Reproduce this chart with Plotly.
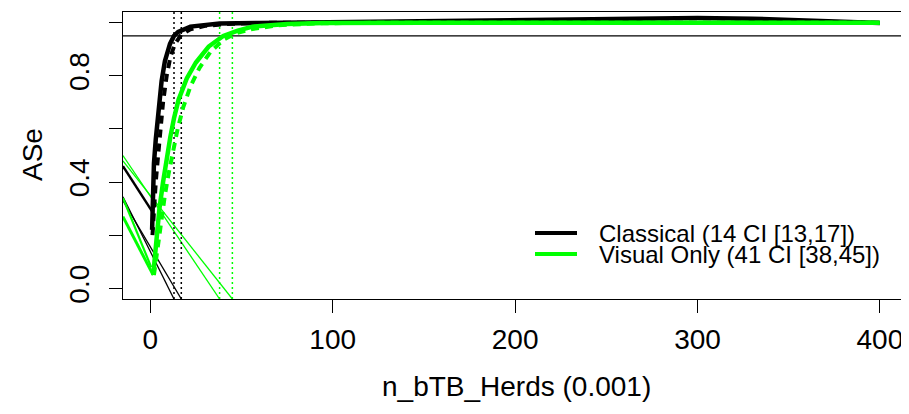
import plotly.graph_objects as go

# ---------------- data ----------------
black_x = [1, 1.5, 2, 3, 4.4, 6.2, 8, 10.8, 13, 15.3, 22, 38, 60, 100, 150, 200, 250, 300, 330, 350, 365, 380, 400]
black_y = [0.22, 0.36, 0.47, 0.56, 0.66, 0.78, 0.855, 0.92, 0.95, 0.965, 0.985, 0.997, 0.999, 1.002, 1.006,
           1.011, 1.015, 1.017, 1.015, 1.01, 1.005, 1.0, 0.999]

black_dash_x = [1.2, 2, 3, 4.3, 5.5, 7, 9, 11, 13.5, 17, 22, 30, 45, 70, 400]
black_dash_y = [0.2, 0.3, 0.4, 0.5, 0.6, 0.7, 0.8, 0.87, 0.92, 0.955, 0.975, 0.988, 0.996, 1.0, 1.0]

green_x = [1.6, 2.5, 3.5, 5, 7, 9, 11, 13, 15.5, 20, 25, 32, 40, 48, 56, 75, 95, 150, 400]
green_y = [0.05, 0.13, 0.22, 0.3, 0.4, 0.49, 0.57, 0.64, 0.71, 0.79, 0.85, 0.91, 0.95, 0.97, 0.985, 0.995,
           0.999, 1.0, 1.0]

green_dash_x = [2, 3, 4.5, 6, 8, 10, 12.5, 15, 18, 22, 27, 33, 40, 47, 55, 70, 90, 130, 400]
green_dash_y = [0.05, 0.1, 0.18, 0.26, 0.35, 0.43, 0.52, 0.6, 0.68, 0.76, 0.83, 0.89, 0.935, 0.96, 0.975,
                0.99, 0.997, 1.0, 1.0]

# straight segments running in from the left edge
black_conn_x = [-15, 1.0]
black_conn_y = [0.46, 0.29]
green_conn1_x = [-15, 0.5]
green_conn1_y = [0.34, 0.08]
green_conn2_x = [-15, 1.6]
green_conn2_y = [0.27, 0.05]

black_thin_x = [[-15, 13], [-15, 17]]
black_thin_y = [[0.345, -0.04], [0.33, -0.04]]
green_thin_x = [[-15, 38], [-15, 45]]
green_thin_y = [[0.50, -0.04], [0.48, -0.04]]

# threshold and CI bounds
threshold = 0.95
black_ci = [13, 17]
green_ci = [38, 45]

legend_labels = ["Classical (14 CI [13,17])", "Visual Only (41 CI [38,45])"]

x_ticks = [0, 100, 200, 300, 400]
y_ticks = [0.0, 0.2, 0.4, 0.6, 0.8, 1.0]
y_ticktext = ["0.0", "", "0.4", "", "0.8", ""]

XR = [-14.96, 415.96]
YR = [-0.04, 1.04]

BLACK = "#000000"
GREEN = "#00FF00"
FONT = "Liberation Sans, Arial, sans-serif"

# page body has an 8px margin: figure is placed at (8, 8)
OFF = 8
W, H = 909 - OFF, 414 - OFF
L, R, T, B = 123 - OFF, 0, 12 - OFF, 414 - 299
PW = W - L - R
PH = H - T - B


def px_x(px):
    return (px - OFF - L) / PW


def px_y(py):
    return (H - B - (py - OFF)) / PH


fig = go.Figure()


def seg(x, y, color, width, dash="solid"):
    fig.add_trace(go.Scatter(x=x, y=y, mode="lines", showlegend=False, hoverinfo="skip",
                             line=dict(color=color, width=width, dash=dash)))


# thin diagonal lines
for xs, ys in zip(black_thin_x, black_thin_y):
    seg(xs, ys, BLACK, 1.3)
seg(black_conn_x, black_conn_y, BLACK, 2.5)
for xs, ys in zip(green_thin_x, green_thin_y):
    seg(xs, ys, GREEN, 1.3)
seg(green_conn1_x, green_conn1_y, GREEN, 2.2)
seg(green_conn2_x, green_conn2_y, GREEN, 3)

# vertical dotted CI lines
for v in black_ci:
    seg([v, v], YR, BLACK, 1.5, "2px,3px")
for v in green_ci:
    seg([v, v], YR, GREEN, 1.5, "2px,3px")

# horizontal threshold
seg(XR, [threshold, threshold], BLACK, 1.2)

# curves
seg(black_dash_x, black_dash_y, BLACK, 4, "8px,6px")
seg(black_x, black_y, BLACK, 4.5)
seg(green_dash_x, green_dash_y, GREEN, 4, "8px,6px")
seg(green_x, green_y, GREEN, 4.5)

# legend (manual, R style), positions in page pixels
leg_py = [233, 254]
leg_col = [BLACK, GREEN]
for py, col, lab in zip(leg_py, leg_col, legend_labels):
    ly = px_y(py)
    fig.add_shape(type="line", xref="paper", yref="paper", x0=px_x(535), x1=px_x(577),
                  y0=ly, y1=ly, line=dict(color=col, width=4))
    fig.add_annotation(xref="paper", yref="paper", x=px_x(597), y=ly, text=lab, showarrow=False,
                       xanchor="left", yanchor="middle", font=dict(family=FONT, size=24, color="black"))

# axis titles
fig.add_annotation(xref="paper", yref="paper", x=px_x(516), y=px_y(386), text="n_bTB_Herds (0.001)",
                   showarrow=False, xanchor="center", yanchor="middle",
                   font=dict(family=FONT, size=28, color="black"))
fig.add_annotation(xref="paper", yref="paper", x=px_x(32), y=px_y(155), text="ASe", textangle=-90,
                   showarrow=False, xanchor="center", yanchor="middle",
                   font=dict(family=FONT, size=28, color="black"))

fig.update_layout(
    width=W, height=H,
    margin=dict(l=L, r=R, t=T, b=B),
    paper_bgcolor="white", plot_bgcolor="white",
    font=dict(family=FONT, size=28, color="black"),
    showlegend=False,
    xaxis=dict(range=XR, tickvals=x_ticks, ticks="outside", ticklen=13, tickwidth=1.3, tickcolor="black",
               showline=True, linecolor="black", linewidth=1.3, mirror=True, showgrid=False, zeroline=False,
               ticklabelstandoff=2, automargin=False),
    yaxis=dict(range=YR, tickvals=y_ticks, ticktext=y_ticktext, ticks="outside", ticklen=13, tickwidth=1.3,
               tickcolor="black", tickangle=-90,
               showline=True, linecolor="black", linewidth=1.3, mirror=True, showgrid=False, zeroline=False,
               ticklabelstandoff=9, automargin=False),
)

fig.write_html("out.html")
